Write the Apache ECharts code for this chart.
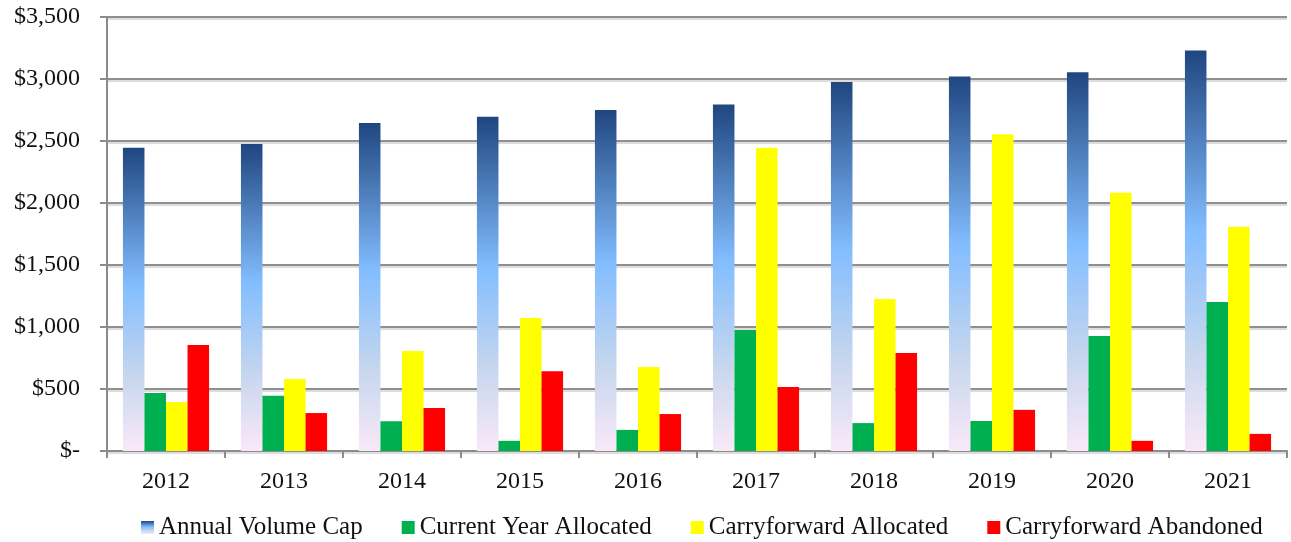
<!DOCTYPE html>
<html>
<head>
<meta charset="utf-8">
<script src="https://cdn.jsdelivr.net/npm/echarts@6/dist/echarts.min.js"></script>
<style>
  html, body { margin: 0; padding: 0; background: #fff; }
  #chart { width: 1291px; height: 542px; }
</style>
</head>
<body>
<div id="chart"></div>
<script>
// values in $ (millions)
var years = ["2012", "2013", "2014", "2015", "2016", "2017", "2018", "2019", "2020", "2021"];
var volumeCap = [2445, 2475, 2645, 2695, 2750, 2795, 2975, 3020, 3055, 3230];
var currentAllocated = [468, 445, 240, 82, 170, 975, 225, 242, 928, 1202];
var carryAllocated = [395, 580, 806, 1072, 678, 2445, 1225, 2555, 2082, 1808];
var carryAbandoned = [855, 306, 347, 644, 298, 517, 790, 332, 82, 138];

var font = "'Liberation Serif', 'DejaVu Serif', serif";

var chart = echarts.init(document.getElementById("chart"));

function bar(name, data, color) {
  return {
    name: name,
    type: "bar",
    data: data,
    barGap: "0%",
    barCategoryGap: "27%",
    itemStyle: { color: color },
    animation: false
  };
}

var capGradient = new echarts.graphic.LinearGradient(0, 0, 0, 1, [
  { offset: 0, color: "#1f4680" },
  { offset: 0.45, color: "#82bdff" },
  { offset: 0.75, color: "#c6d6ee" },
  { offset: 1, color: "#f9e9f8" }
]);

chart.setOption({
  grid: { left: 107, right: 4, top: 17, bottom: 91 },
  legend: {
    left: 136,
    top: 510,
    itemWidth: 13,
    itemHeight: 13,
    itemGap: 39,
    icon: "rect",
    textStyle: { fontFamily: font, fontSize: 25, color: "#111" },
    data: ["Annual Volume Cap", "Current Year Allocated", "Carryforward Allocated", "Carryforward Abandoned"]
  },
  xAxis: {
    type: "category",
    data: years,
    axisLine: { lineStyle: { color: "#8c8c8c", width: 2 } },
    axisTick: { show: true, length: 7, lineStyle: { color: "#8c8c8c", width: 2 } },
    axisLabel: { fontFamily: font, fontSize: 24, color: "#111", margin: 19 }
  },
  yAxis: {
    type: "value",
    min: 0,
    max: 3500,
    interval: 500,
    axisLine: { show: true, lineStyle: { color: "#8c8c8c", width: 2 } },
    axisTick: { show: true, length: 7, lineStyle: { color: "#8c8c8c", width: 2 } },
    splitLine: { lineStyle: { color: "#8f8f8f", width: 2, shadowColor: "rgba(0,0,0,0.15)", shadowOffsetY: 2, shadowBlur: 1 } },
    axisLabel: {
      fontFamily: font,
      fontSize: 24,
      color: "#111",
      margin: 27,
      formatter: function (v) {
        return v === 0 ? "$-" : "$" + v.toLocaleString("en-US");
      }
    }
  },
  series: [
    bar("Annual Volume Cap", volumeCap, capGradient),
    bar("Current Year Allocated", currentAllocated, "#00b050"),
    bar("Carryforward Allocated", carryAllocated, "#ffff00"),
    bar("Carryforward Abandoned", carryAbandoned, "#ff0000")
  ]
});
</script>
</body>
</html>
